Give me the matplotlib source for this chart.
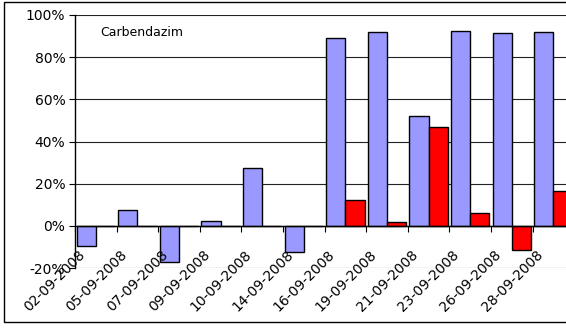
import matplotlib
matplotlib.use("Agg")
import matplotlib.pyplot as plt
import matplotlib.transforms as mtransforms
from matplotlib.patches import Rectangle
import numpy as np

dates = ["02-09-2008", "05-09-2008", "07-09-2008", "09-09-2008", "10-09-2008",
         "14-09-2008", "16-09-2008", "19-09-2008", "21-09-2008", "23-09-2008",
         "26-09-2008", "28-09-2008"]
series_blue = [-9.5, 7.3, -17.0, 2.2, 27.2, -12.2, 89.2, 91.8, 52.1, 92.4, 91.3, 91.8]
series_red = [0, 0, 0, 0, 0, 0, 12.2, 1.8, 46.8, 6.0, -11.5, 16.7]
y_ticks = [-20, 0, 20, 40, 60, 80, 100]
title_text = "Carbendazim"

plt.rcParams["font.family"] = ["DejaVu Sans"]

W, H = 566, 329
fig = plt.figure(figsize=(W / 100, H / 100), dpi=100)

# outer chart frame
fig.patches.append(Rectangle((4 / W, 1 - 322 / H), 600 / W, (322 - 2) / H,
                             transform=fig.transFigure, fill=False,
                             edgecolor="black", linewidth=1.0))

left_px, top_px, bottom_px, cat_px = 75, 15, 268, 41.6
n = len(dates)
ax = fig.add_axes([left_px / W, 1 - bottom_px / H, n * cat_px / W, (bottom_px - top_px) / H])
ax.set_xlim(0, n)
ax.set_ylim(-20, 100)

x = np.arange(n)
bw = 0.46
ax.bar(x + 0.5 - bw / 2, series_blue, width=bw, color="#9999FF", edgecolor="black",
       linewidth=1.0, zorder=3)
ax.bar(x + 0.5 + bw / 2, series_red, width=bw, color="#FF0000", edgecolor="black",
       linewidth=1.0, zorder=3)

ax.set_yticks(y_ticks)
ax.set_yticklabels([f"{v}%" for v in y_ticks], fontsize=10)
ax.yaxis.grid(True, color="#222222", linewidth=0.8)
ax.set_axisbelow(True)
ax.tick_params(axis="y", direction="out", length=4, width=0.8, pad=3)

for s in ["top", "right"]:
    ax.spines[s].set_visible(False)
ax.spines["left"].set_linewidth(1.0)
ax.spines["bottom"].set_position(("data", 0))
ax.spines["bottom"].set_linewidth(1.0)
ax.spines["bottom"].set_zorder(4)

ax.set_xticks(np.arange(n + 1), minor=True)
ax.set_xticks(x + 0.5)
ax.set_xticklabels(dates, fontsize=10, rotation=45, ha="right", va="center",
                   rotation_mode="anchor")
ax.tick_params(axis="x", which="minor", direction="out", length=4, width=0.8)
ax.tick_params(axis="x", which="major", length=0, pad=19.5)
ax.xaxis.set_zorder(5)
offset = mtransforms.ScaledTranslation(-13 / 100, 0, fig.dpi_scale_trans)
for lbl in ax.get_xticklabels():
    lbl.set_transform(lbl.get_transform() + offset)

ax.text(100 / W, 1 - 32 / H, title_text, transform=fig.transFigure, fontsize=9,
        ha="left", va="center")

fig.savefig("out.png", dpi=100)
